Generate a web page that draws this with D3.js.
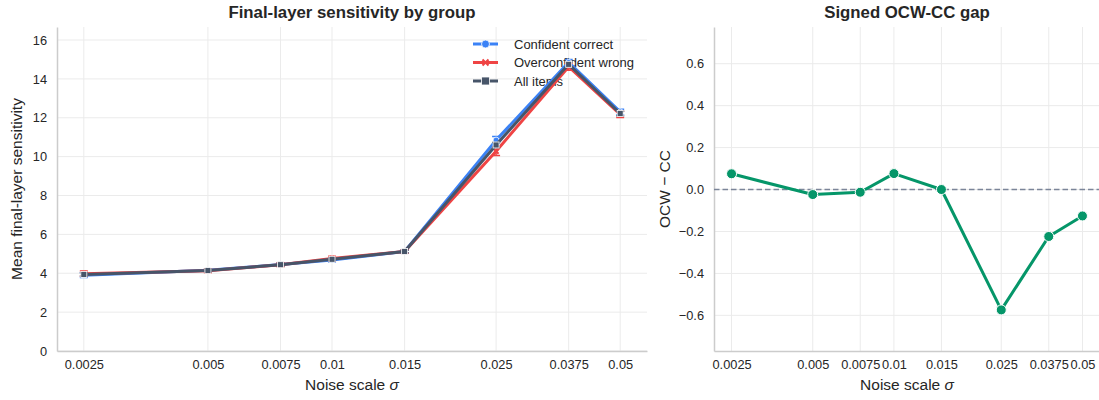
<!DOCTYPE html>
<html>
<head>
<meta charset="utf-8">
<script src="https://cdn.jsdelivr.net/npm/d3@7"></script>
<style>
  body { margin: 0; background: #fff; }
  text { font-family: "Liberation Sans", Arial, sans-serif; fill: #262626; }
</style>
</head>
<body>
<div id="chart"></div>
<script>
// noise levels (x) and tick labels
var sigmas = [0.0025, 0.005, 0.0075, 0.01, 0.015, 0.025, 0.0375, 0.05];
var sigmaLabels = ['0.0025', '0.005', '0.0075', '0.01', '0.015', '0.025', '0.0375', '0.05'];

// mean final-layer sensitivity per group
var ccMean  = [3.90, 4.15, 4.45, 4.68, 5.12, 10.85, 14.85, 12.30];
var ocwMean = [3.98, 4.13, 4.44, 4.76, 5.12, 10.28, 14.63, 12.17];
var allMean = [3.94, 4.14, 4.44, 4.72, 5.12, 10.60, 14.75, 12.22];
// error bar half-widths
var ccErr  = [0.12, 0.08, 0.08, 0.10, 0.08, 0.18, 0.15, 0.14];
var ocwErr = [0.14, 0.10, 0.10, 0.12, 0.09, 0.22, 0.18, 0.16];
var allErr = [0.08, 0.06, 0.06, 0.07, 0.06, 0.13, 0.12, 0.11];

// signed gap OCW - CC
var gap = [0.075, -0.024, -0.013, 0.076, 0.0, -0.574, -0.224, -0.126];

var leftYTicks = [0, 2, 4, 6, 8, 10, 12, 14, 16];
var rightYTicks = [-0.6, -0.4, -0.2, 0.0, 0.2, 0.4, 0.6];

var groups = [
    { name: 'Confident correct', mean: ccMean, err: ccErr, color: '#3b82f6', marker: 'circle' },
    { name: 'Overconfident wrong', mean: ocwMean, err: ocwErr, color: '#ef4444', marker: 'x' },
    { name: 'All items', mean: allMean, err: allErr, color: '#475569', marker: 'square' }
];

var W = 1099, H = 400;
var svg = d3.select('#chart').append('svg')
    .attr('width', W)
    .attr('height', H);

// log x domain padded by 5% like matplotlib
function paddedLogDomain() {
    var a = Math.log10(sigmas[0]), b = Math.log10(sigmas[sigmas.length - 1]);
    var p = (b - a) * 0.05;
    return [Math.pow(10, a - p), Math.pow(10, b + p)];
}

function drawFrame(g, x, y, yTicks, yFmt, plot, title, ylabel) {
    // grid
    g.append('g').selectAll('line').data(sigmas).enter().append('line')
        .attr('x1', function(d) { return x(d); })
        .attr('x2', function(d) { return x(d); })
        .attr('y1', plot.top).attr('y2', plot.bottom)
        .attr('stroke', '#ebebeb').attr('stroke-width', 1);
    g.append('g').selectAll('line').data(yTicks).enter().append('line')
        .attr('x1', plot.left).attr('x2', plot.right)
        .attr('y1', function(d) { return y(d); })
        .attr('y2', function(d) { return y(d); })
        .attr('stroke', '#ebebeb').attr('stroke-width', 1);

    // axes
    var xAxis = d3.axisBottom(x).tickValues(sigmas)
        .tickFormat(function(d, i) { return sigmaLabels[i]; })
        .tickSize(0).tickPadding(9);
    var gx = g.append('g').attr('transform', 'translate(0,' + plot.bottom + ')').call(xAxis);
    gx.select('.domain').attr('stroke', '#cccccc').attr('stroke-width', 1.5);
    gx.selectAll('text').attr('font-size', '12.8px').attr('fill', '#262626');

    var yAxis = d3.axisLeft(y).tickValues(yTicks).tickFormat(yFmt)
        .tickSize(0).tickPadding(10);
    var gy = g.append('g').attr('transform', 'translate(' + plot.left + ',0)').call(yAxis);
    gy.select('.domain').attr('stroke', '#cccccc').attr('stroke-width', 1.5);
    gy.selectAll('text').attr('font-size', '12.8px').attr('fill', '#262626');

    g.append('text')
        .attr('x', (plot.left + plot.right) / 2).attr('y', 18)
        .attr('text-anchor', 'middle')
        .attr('font-size', '16.8px').attr('font-weight', 'bold')
        .text(title);

    g.append('text')
        .attr('x', (plot.left + plot.right) / 2).attr('y', 390)
        .attr('text-anchor', 'middle')
        .attr('font-size', '15.5px')
        .text('Noise scale ')
        .append('tspan').attr('font-style', 'italic').text('σ');

    g.append('text')
        .attr('transform', 'translate(' + plot.ylabelX + ',' + ((plot.top + plot.bottom) / 2) + ') rotate(-90)')
        .attr('text-anchor', 'middle')
        .attr('font-size', '15.5px')
        .text(ylabel);
}

function drawMarker(sel, type, cx, cy, color, size) {
    if (type === 'circle') {
        sel.append('circle').attr('cx', cx).attr('cy', cy).attr('r', size)
            .attr('fill', color).attr('stroke', '#fff').attr('stroke-width', 0.8);
    } else if (type === 'square') {
        sel.append('rect').attr('x', cx - size).attr('y', cy - size)
            .attr('width', size * 2).attr('height', size * 2)
            .attr('fill', color).attr('stroke', '#fff').attr('stroke-width', 0.8);
    } else {
        sel.append('path')
            .attr('d', 'M' + (cx - size) + ',' + (cy - size) + 'L' + (cx + size) + ',' + (cy + size) +
                       'M' + (cx - size) + ',' + (cy + size) + 'L' + (cx + size) + ',' + (cy - size))
            .attr('stroke', color).attr('stroke-width', 2).attr('fill', 'none');
    }
}

// ---- left panel ----
var pL = { left: 57, right: 647, top: 27, bottom: 351, ylabelX: 22 };
var xL = d3.scaleLog().domain(paddedLogDomain()).range([pL.left, pL.right]);
var yL = d3.scaleLinear().domain([0, 16.67]).range([pL.bottom, pL.top]);
var gL = svg.append('g');
drawFrame(gL, xL, yL, leftYTicks, d3.format('d'), pL, 'Final-layer sensitivity by group', 'Mean final-layer sensitivity');

// legend (drawn under the lines, as in the original)
var leg = gL.append('g').attr('transform', 'translate(473,44)');
groups.forEach(function(grp, i) {
    var row = leg.append('g').attr('transform', 'translate(0,' + (i * 18.5) + ')');
    row.append('line').attr('x1', 0).attr('x2', 25).attr('y1', 0).attr('y2', 0)
        .attr('stroke', grp.color).attr('stroke-width', 3);
    drawMarker(row, grp.marker, 12.5, 0, grp.color, grp.marker === 'x' ? 3 : 4);
    row.append('text').attr('x', 41).attr('y', 4.7)
        .attr('font-size', '13px').text(grp.name);
});

var line = d3.line()
    .x(function(d) { return xL(d[0]); })
    .y(function(d) { return yL(d[1]); });

groups.forEach(function(grp) {
    var pts = sigmas.map(function(s, i) { return [s, grp.mean[i], grp.err[i]]; });
    var gg = gL.append('g');
    gg.append('path').datum(pts).attr('d', line)
        .attr('fill', 'none').attr('stroke', grp.color)
        .attr('stroke-width', 3).attr('stroke-linejoin', 'round');
    pts.forEach(function(p) {
        var cx = xL(p[0]);
        var y0 = yL(p[1] - p[2]), y1 = yL(p[1] + p[2]);
        gg.append('path')
            .attr('d', 'M' + cx + ',' + y0 + 'L' + cx + ',' + y1 +
                       'M' + (cx - 4) + ',' + y0 + 'L' + (cx + 4) + ',' + y0 +
                       'M' + (cx - 4) + ',' + y1 + 'L' + (cx + 4) + ',' + y1)
            .attr('stroke', grp.color).attr('stroke-width', 1.5).attr('fill', 'none');
        drawMarker(gg, grp.marker, cx, yL(p[1]), grp.color, grp.marker === 'x' ? 2.5 : 3);
    });
});

// ---- right panel ----
var pR = { left: 714, right: 1100, top: 27, bottom: 351, ylabelX: 670 };
var xR = d3.scaleLog().domain(paddedLogDomain()).range([pR.left, pR.right]);
var yR = d3.scaleLinear().domain([-0.77, 0.775]).range([pR.bottom, pR.top]);
var gR = svg.append('g');
drawFrame(gR, xR, yR, rightYTicks, function(d) { return d3.format('.1f')(d).replace('-', '\u2212'); },
    pR, 'Signed OCW-CC gap', 'OCW \u2212 CC');

gR.append('line')
    .attr('x1', pR.left).attr('x2', pR.right)
    .attr('y1', yR(0)).attr('y2', yR(0))
    .attr('stroke', '#7b8599').attr('stroke-width', 1.5)
    .attr('stroke-dasharray', '5.5,3');

var gapPts = sigmas.map(function(s, i) { return [s, gap[i]]; });
gR.append('path').datum(gapPts)
    .attr('d', d3.line().x(function(d) { return xR(d[0]); }).y(function(d) { return yR(d[1]); }))
    .attr('fill', 'none').attr('stroke', '#059669').attr('stroke-width', 3)
    .attr('stroke-linejoin', 'round');
gR.selectAll('circle.pt').data(gapPts).enter().append('circle')
    .attr('class', 'pt')
    .attr('cx', function(d) { return xR(d[0]); })
    .attr('cy', function(d) { return yR(d[1]); })
    .attr('r', 5)
    .attr('fill', '#059669').attr('stroke', '#fff').attr('stroke-width', 1);
</script>
</body>
</html>
